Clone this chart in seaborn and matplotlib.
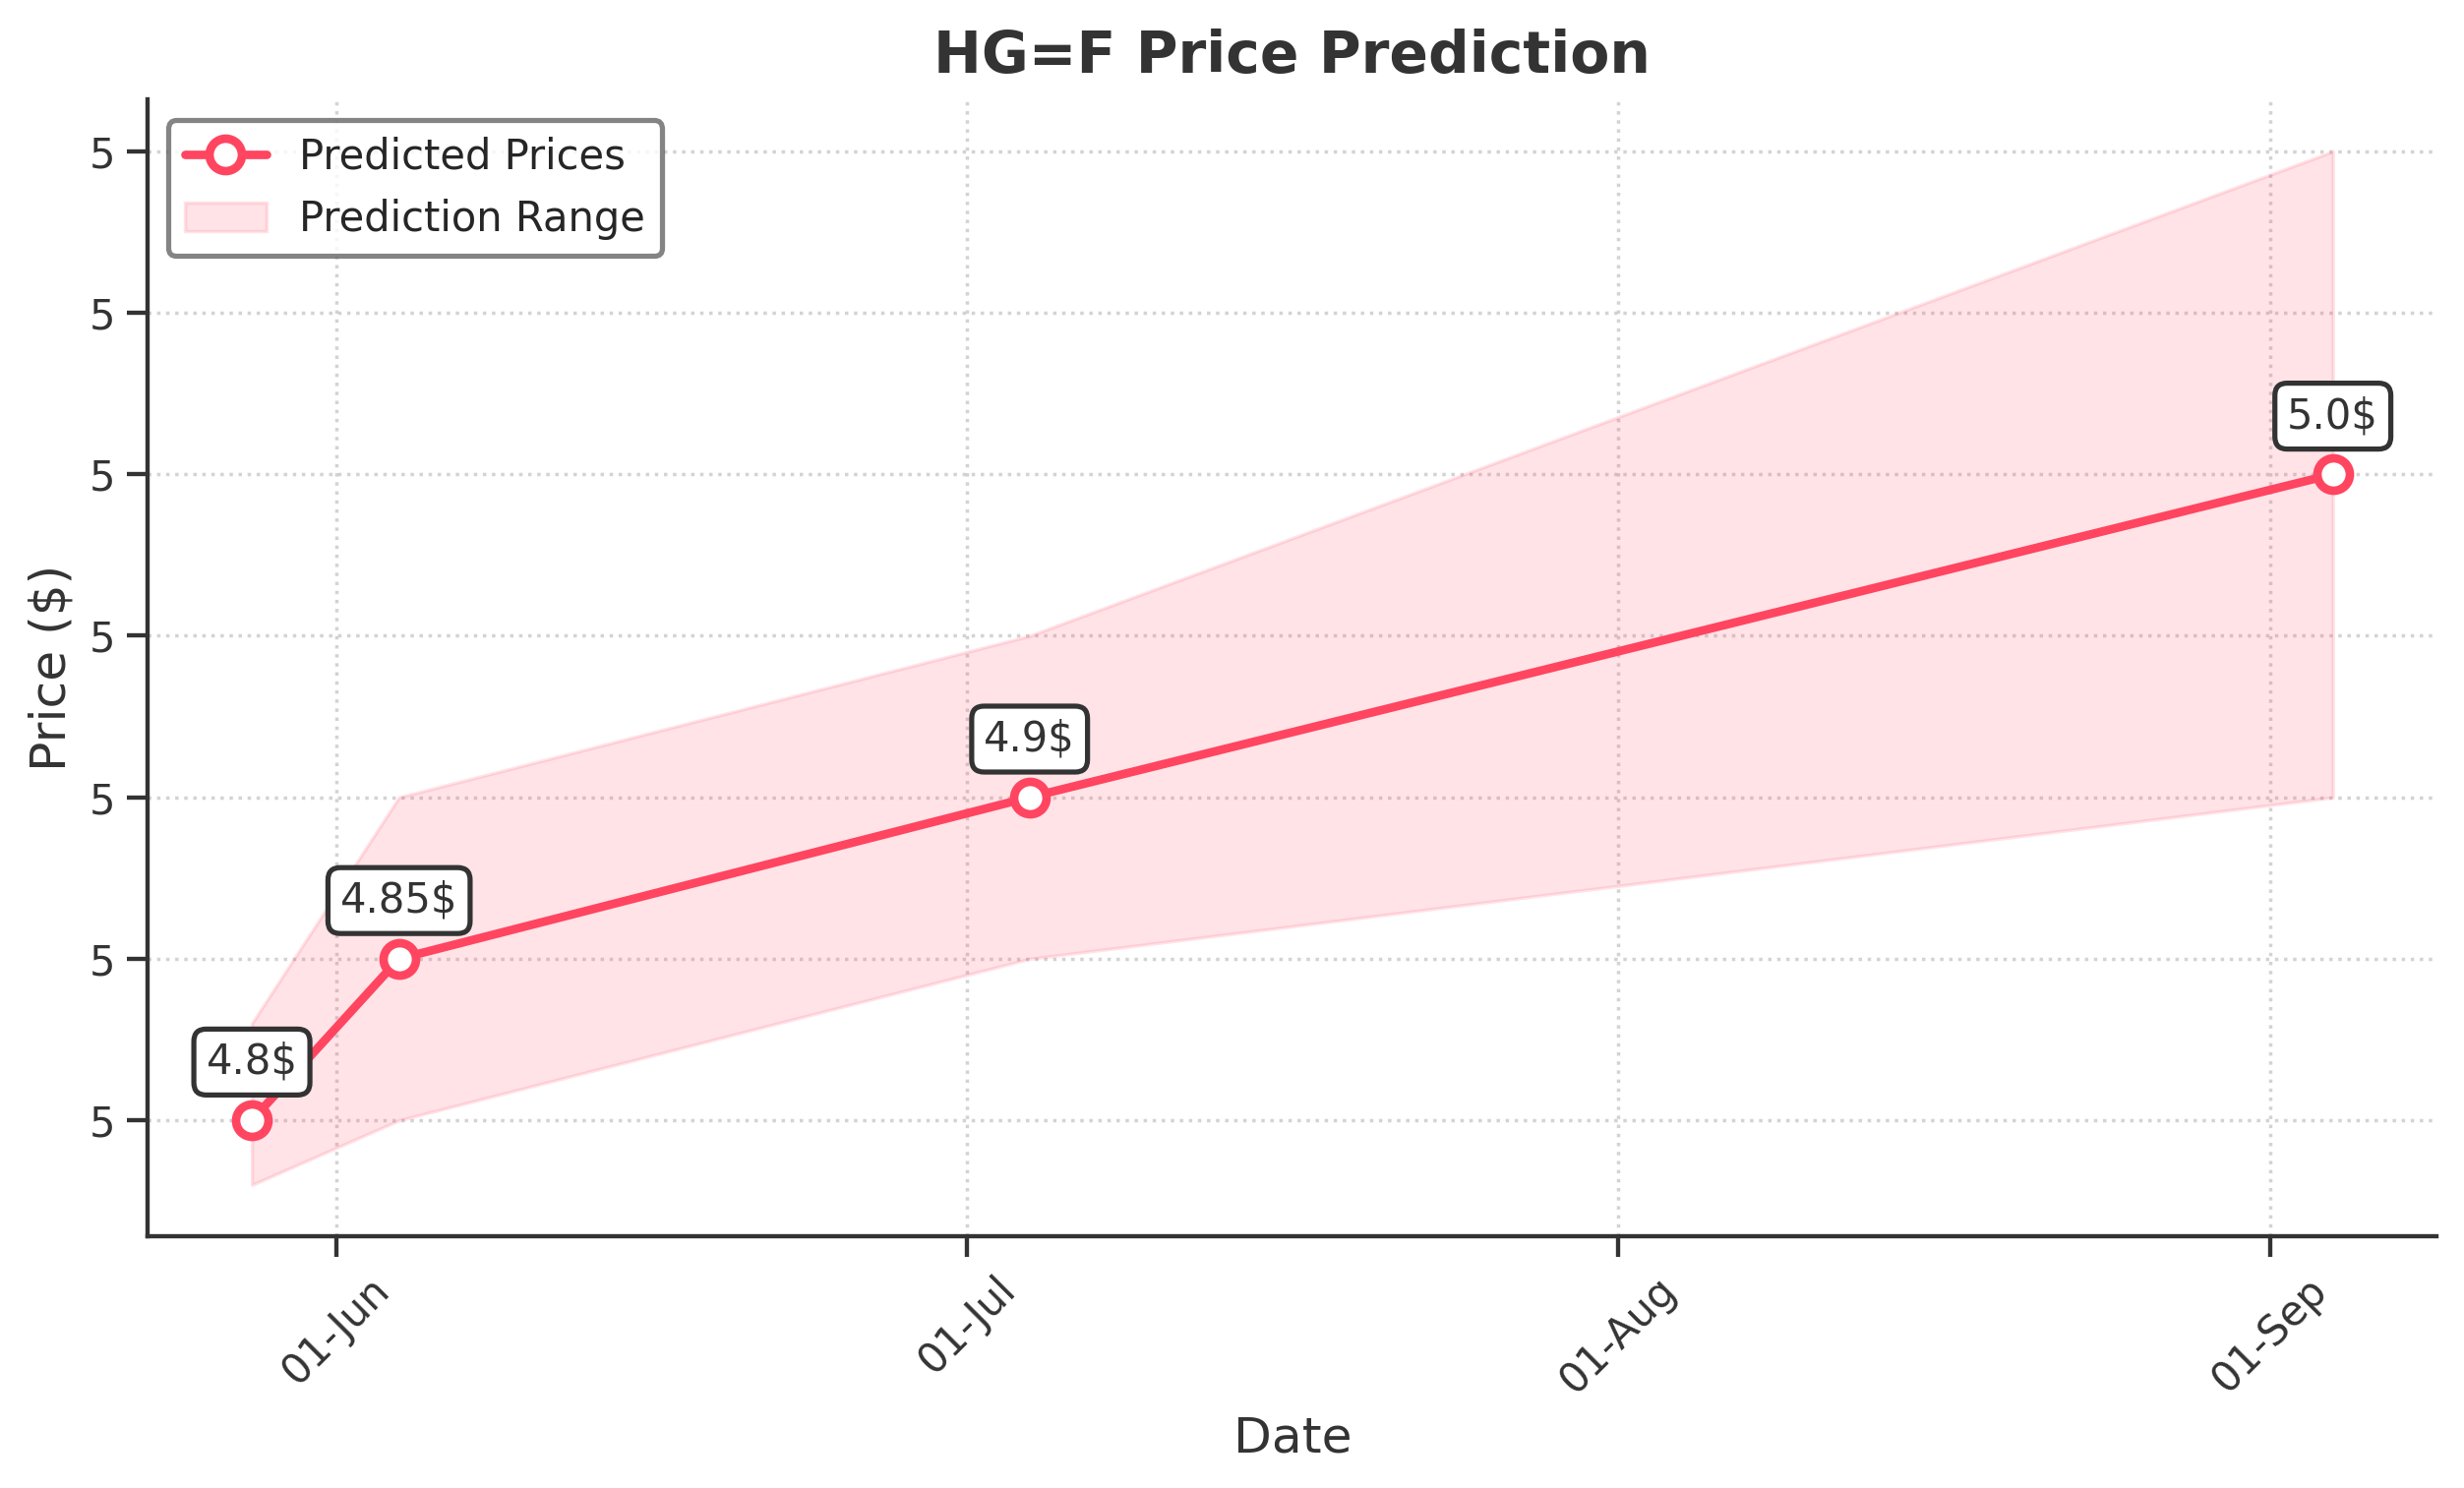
import matplotlib
matplotlib.use("Agg")
import matplotlib.pyplot as plt
import matplotlib.dates as mdates
import matplotlib.ticker as mticker
import pandas as pd
import seaborn as sns

# data
dates = ["2024-05-28", "2024-06-04", "2024-07-04", "2024-09-04"]
predicted = [4.80, 4.85, 4.90, 5.00]
range_low = [4.78, 4.80, 4.85, 4.90]
range_high = [4.83, 4.90, 4.95, 5.10]
labels = ["4.8$", "4.85$", "4.9$", "5.0$"]

df = pd.DataFrame({
    "Date": pd.to_datetime(dates),
    "Price": predicted,
    "Low": range_low,
    "High": range_high,
})

sns.set_style("ticks")
plt.rcParams["font.family"] = ["DejaVu Sans"]
text_col = "#333333"
line_col = "#FF4560"

fig, ax = plt.subplots(figsize=(10.02, 6.052), dpi=250)
fig.subplots_adjust(left=0.06, right=0.989, top=0.933, bottom=0.169)

ax.fill_between(df["Date"], df["Low"], df["High"], color=line_col, alpha=0.15,
                label="Prediction Range")
sns.lineplot(data=df, x="Date", y="Price", ax=ax, color=line_col, linewidth=2.5,
             marker="o", markersize=9.5, markerfacecolor="white",
             markeredgecolor=line_col, markeredgewidth=2.5, label="Predicted Prices")

for d, p, t in zip(df["Date"], df["Price"], labels):
    ax.annotate(t, (d, p), xytext=(0, 11), textcoords="offset points",
                ha="center", va="bottom", fontsize=12, color=text_col,
                bbox=dict(boxstyle="round,pad=0.3", fc="white", ec=text_col, lw=1.5))

ax.set_title("HG=F Price Prediction", fontsize=16.8, fontweight="bold", color=text_col, pad=8)
ax.set_xlabel("Date", fontsize=14.5, color=text_col)
ax.set_ylabel("Price ($)", fontsize=14.5, color=text_col)

ax.xaxis.set_major_locator(mdates.MonthLocator())
ax.xaxis.set_major_formatter(mdates.DateFormatter("%d-%b"))
ax.yaxis.set_major_locator(mticker.MultipleLocator(0.05))
ax.yaxis.set_major_formatter(mticker.FormatStrFormatter("%.0f"))
plt.setp(ax.get_xticklabels(), rotation=45)
ax.tick_params(labelsize=12, colors=text_col, width=1.25, length=6)

ax.grid(True, linestyle=":", color="#c8c8c8", linewidth=1, alpha=0.8)
for s in ["left", "bottom"]:
    ax.spines[s].set_color(text_col)
    ax.spines[s].set_linewidth(1.25)
sns.despine(ax=ax)

handles, lbls = ax.get_legend_handles_labels()
order = [lbls.index("Predicted Prices"), lbls.index("Prediction Range")]
leg = ax.legend([handles[i] for i in order], [lbls[i] for i in order],
                loc="upper left", fontsize=12, frameon=True, fancybox=True)
leg.get_frame().set_edgecolor("#666666")
leg.get_frame().set_linewidth(1.5)

fig.savefig("out.png", dpi=250)
